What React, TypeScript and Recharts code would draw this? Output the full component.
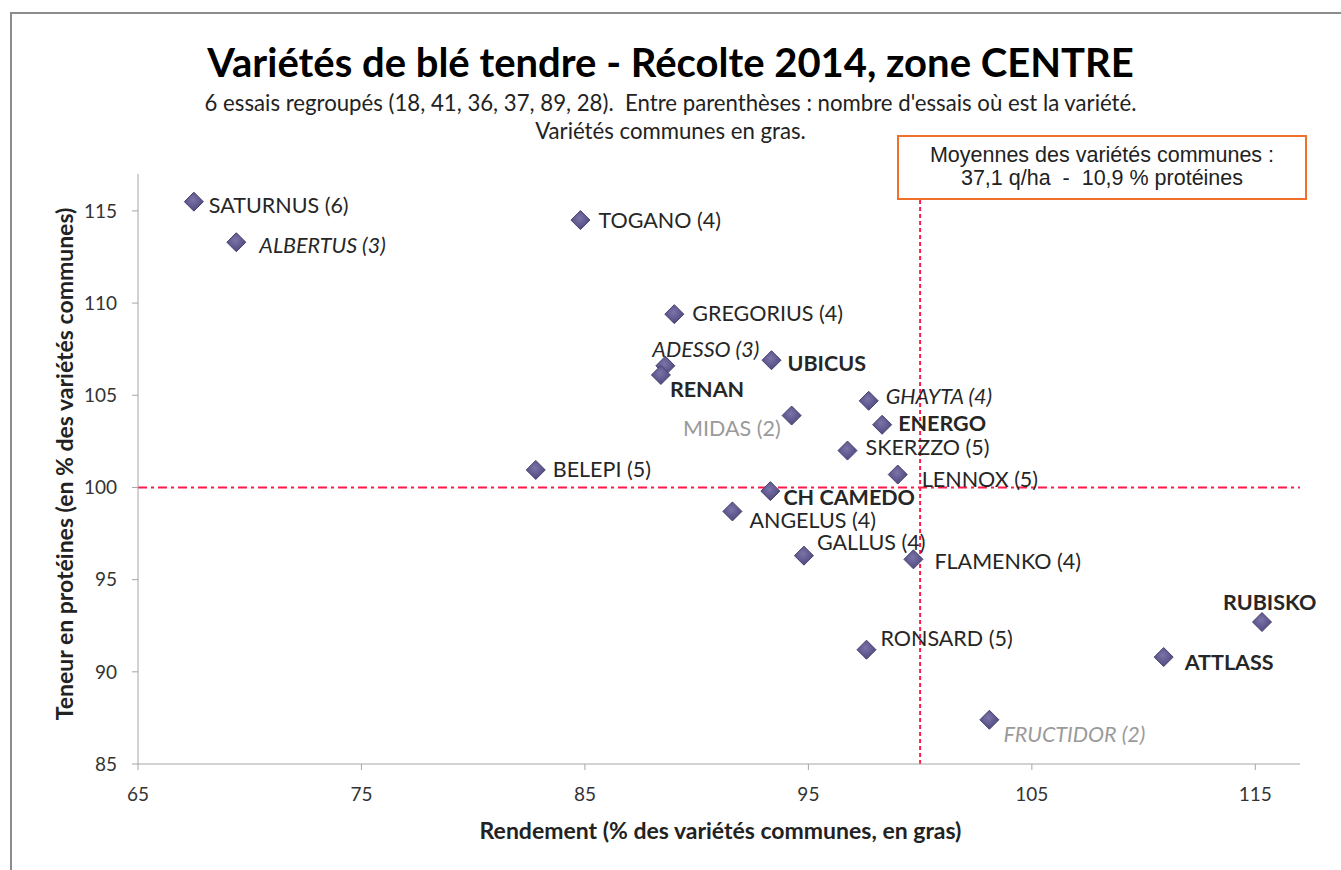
import React from "react";
import { ScatterChart, Scatter, XAxis, YAxis, ReferenceLine } from "recharts";

// variétés, nombre d'essais (null = variété commune), rendement et protéines en % des variétés communes
const varietes = [
  "SATURNUS", "ALBERTUS", "TOGANO", "GREGORIUS", "ADESSO", "RENAN", "UBICUS",
  "MIDAS", "GHAYTA", "ENERGO", "SKERZZO", "LENNOX", "CH CAMEDO", "ANGELUS",
  "GALLUS", "FLAMENKO", "BELEPI", "RONSARD", "FRUCTIDOR", "ATTLASS", "RUBISKO",
];
const essais = [6, 3, 4, 4, 3, null, null, 2, 4, null, 5, 5, null, 4, 4, 4, 5, 5, 2, null, null];
const rendement = [
  67.5, 69.4, 84.8, 89.0, 88.6, 88.4, 93.35, 94.25, 97.7, 98.3, 96.75, 99.0,
  93.3, 91.6, 94.8, 99.7, 82.8, 97.6, 103.1, 110.9, 115.3,
];
const proteines = [
  115.5, 113.3, 114.5, 109.4, 106.6, 106.1, 106.9, 103.9, 104.7, 103.4, 102.0,
  100.7, 99.8, 98.7, 96.3, 96.1, 100.95, 91.2, 87.4, 90.8, 92.7,
];
const xTicks = [65, 75, 85, 95, 105, 115];
const yTicks = [85, 90, 95, 100, 105, 110, 115];

const data = varietes.map((nom, i) => ({
  nom,
  label: essais[i] == null ? nom : `${nom} (${essais[i]})`,
  commune: essais[i] == null,
  x: rendement[i],
  y: proteines[i],
}));

// placement des étiquettes autour des losanges
const LABEL_POS: Record<string, { dx: number; dy: number; anchor?: "start" | "end" }> = {
  SATURNUS: { dx: 15, dy: 3 },
  ALBERTUS: { dx: 23, dy: 3 },
  TOGANO: { dx: 18, dy: 0 },
  GREGORIUS: { dx: 18, dy: -1 },
  ADESSO: { dx: -13, dy: -17 },
  RENAN: { dx: 9, dy: 14 },
  UBICUS: { dx: 16, dy: 3 },
  MIDAS: { dx: -11, dy: 12, anchor: "end" },
  GHAYTA: { dx: 17, dy: -5 },
  ENERGO: { dx: 16, dy: -2 },
  SKERZZO: { dx: 18, dy: -4 },
  LENNOX: { dx: 24, dy: 4 },
  "CH CAMEDO": { dx: 13, dy: 6 },
  ANGELUS: { dx: 17, dy: 9 },
  GALLUS: { dx: 13, dy: -14 },
  FLAMENKO: { dx: 21, dy: 2 },
  BELEPI: { dx: 17, dy: -1 },
  RONSARD: { dx: 14, dy: -12 },
  FRUCTIDOR: { dx: 14, dy: 14 },
  ATTLASS: { dx: 21, dy: 5 },
  RUBISKO: { dx: -39, dy: -20 },
};
const ITALIC = ["ALBERTUS", "ADESSO", "GHAYTA", "FRUCTIDOR"];
const GRIS = ["MIDAS", "FRUCTIDOR"];

const FONT = "Lato, 'Open Sans', sans-serif";

function Diamond(props: any) {
  const { cx, cy, payload } = props;
  if (cx == null || cy == null) return null;
  const r = 9.5;
  const pos = LABEL_POS[payload.nom] ?? { dx: 14, dy: 0 };
  return (
    <g>
      <polygon
        points={`${cx},${cy - r} ${cx + r},${cy} ${cx},${cy + r} ${cx - r},${cy}`}
        fill="url(#diamondFill)"
        stroke="#48426e"
        strokeWidth={1}
      />
      <text
        x={cx + pos.dx}
        y={cy + pos.dy}
        textAnchor={pos.anchor ?? "start"}
        dominantBaseline="central"
        fontFamily={FONT}
        fontSize={21.5}
        fontWeight={payload.commune ? 700 : 400}
        fontStyle={ITALIC.includes(payload.nom) ? "italic" : "normal"}
        fill={GRIS.includes(payload.nom) ? "#9a9a9a" : "#262626"}
      >
        {payload.label}
      </text>
    </g>
  );
}

export default function App() {
  return (
    <div style={{ position: "absolute", left: 0, top: 0, width: 1341, height: 870, background: "#fff", fontFamily: FONT }}>
      <div style={{ position: "absolute", left: 10, top: 12, right: 0, bottom: 0, borderTop: "2px solid #8c8c8c", borderLeft: "2px solid #8c8c8c" }} />
      <div style={{ position: "absolute", left: 0, width: 1341, top: 37, textAlign: "center", fontSize: 40, lineHeight: "50px", fontWeight: 700, color: "#000" }}>
        Variétés de blé tendre - Récolte 2014, zone CENTRE
      </div>
      <div style={{ position: "absolute", left: 0, width: 1341, top: 89, textAlign: "center", fontSize: 22.2, lineHeight: "28px", color: "#222" }}>
        6 essais regroupés (18, 41, 36, 37, 89, 28).&nbsp; Entre parenthèses : nombre d'essais où est la variété.
        <br />
        Variétés communes en gras.
      </div>
      <ScatterChart width={1341} height={870} margin={{ top: 174, right: 41, bottom: 66, left: 78 }}>
        <defs>
          <radialGradient id="diamondFill" cx="45%" cy="40%" r="60%">
            <stop offset="0%" stopColor="#7a74a8" />
            <stop offset="100%" stopColor="#4f4880" />
          </radialGradient>
        </defs>
        <XAxis
          type="number"
          dataKey="x"
          domain={[65, 117]}
          ticks={xTicks}
          height={40}
          tickSize={6}
          tickMargin={18}
          stroke="#a6a6a6"
          tick={{ fill: "#333", fontSize: 19, fontFamily: FONT }}
        />
        <YAxis
          type="number"
          dataKey="y"
          domain={[85, 117]}
          ticks={yTicks}
          width={60}
          tickSize={6}
          tickMargin={15}
          stroke="#a6a6a6"
          tick={{ fill: "#333", fontSize: 19, fontFamily: FONT }}
        />
        <ReferenceLine x={100} stroke="#ff1a4a" strokeWidth={2} strokeDasharray="4 3" />
        <ReferenceLine y={100} stroke="#ff1a4a" strokeWidth={2} strokeDasharray="9 4 3 4" />
        <Scatter data={data} shape={Diamond} isAnimationActive={false} />
      </ScatterChart>
      <div style={{ position: "absolute", left: 0, width: 1341, top: 816, lineHeight: "28px", paddingLeft: 100, boxSizing: "border-box", textAlign: "center", fontSize: 23, fontWeight: 700, color: "#222" }}>
        Rendement (% des variétés communes, en gras)
      </div>
      <div
        style={{
          position: "absolute",
          left: 64,
          top: 464,
          transform: "translate(-50%, -50%) rotate(-90deg)",
          whiteSpace: "nowrap",
          fontSize: 23,
          lineHeight: "28px",
          fontWeight: 700,
          color: "#222",
        }}
      >
        Teneur en protéines (en % des variétés communes)
      </div>
      <div
        style={{
          position: "absolute",
          left: 897,
          top: 135,
          width: 410,
          height: 65,
          boxSizing: "border-box",
          border: "2px solid #f0702a",
          background: "#fff",
          textAlign: "center",
          fontFamily: "'Liberation Sans', Arial, sans-serif",
          fontSize: 21.5,
          lineHeight: "23px",
          paddingTop: 7,
          color: "#222",
        }}
      >
        Moyennes des variétés communes :
        <br />
        37,1 q/ha&nbsp; -&nbsp; 10,9 % protéines
      </div>
    </div>
  );
}
